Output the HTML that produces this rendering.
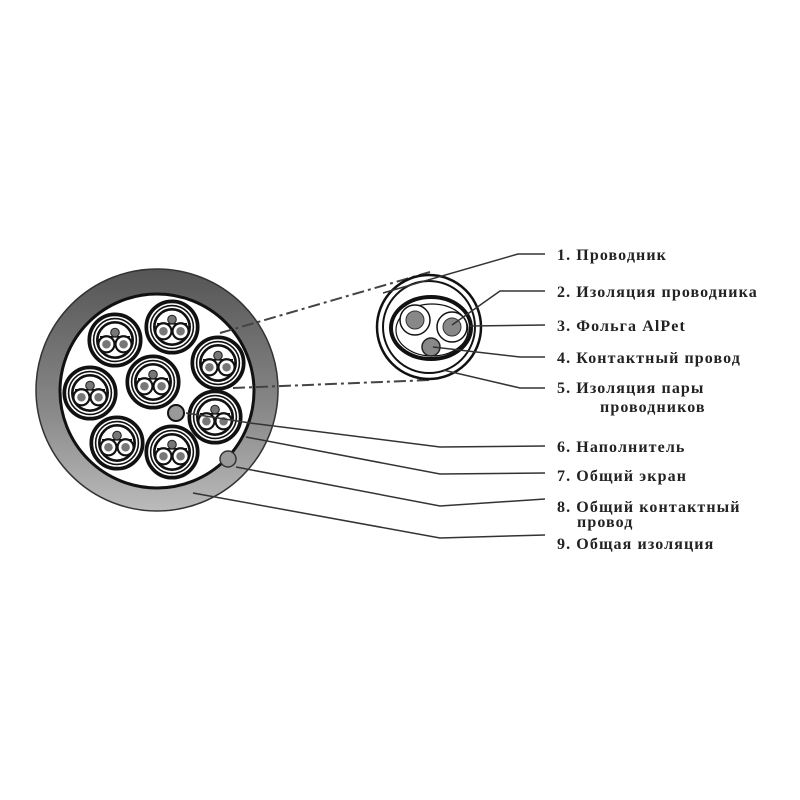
<!DOCTYPE html>
<html><head><meta charset="utf-8"><style>
html,body{margin:0;padding:0;background:#fff;}
svg{display:block}
text{font-family:"Liberation Serif",serif;font-weight:bold;font-size:16px;letter-spacing:1.1px;fill:#222}
</style></head><body>
<svg width="800" height="800" viewBox="0 0 800 800" xmlns="http://www.w3.org/2000/svg">
<defs>
<linearGradient id="g" x1="0" y1="0" x2="0" y2="1">
<stop offset="0" stop-color="#555"/><stop offset="0.6" stop-color="#8a8a8a"/><stop offset="1" stop-color="#bbb"/>
</linearGradient>
<g id="pair" transform="scale(1.07)">
<circle r="24" fill="#fff" stroke="#111" stroke-width="3.5"/>
<circle r="20" fill="none" stroke="#111" stroke-width="1.5"/>
<circle r="16.5" fill="none" stroke="#111" stroke-width="2.5"/>
<line x1="-14" y1="-3" x2="14" y2="-3" stroke="#111" stroke-width="1.5"/>
<circle cx="0" cy="-7" r="4" fill="#777" stroke="#222"/>
<circle cx="-8" cy="4" r="7.5" fill="#fff" stroke="#111" stroke-width="2"/>
<circle cx="8" cy="4" r="7.5" fill="#fff" stroke="#111" stroke-width="2"/>
<circle cx="-8" cy="4" r="4" fill="#777"/>
<circle cx="8" cy="4" r="4" fill="#777"/>
</g>
</defs>
<circle cx="157" cy="390" r="121" fill="url(#g)" stroke="#333" stroke-width="1.5"/>
<circle cx="157" cy="391" r="97" fill="#fff" stroke="#111" stroke-width="3"/>
<use href="#pair" x="115" y="340"/>
<use href="#pair" x="172" y="327"/>
<use href="#pair" x="218" y="363"/>
<use href="#pair" x="153" y="382"/>
<use href="#pair" x="90" y="393"/>
<use href="#pair" x="215" y="417"/>
<use href="#pair" x="117" y="443"/>
<use href="#pair" x="172" y="452"/>
<circle cx="176" cy="413" r="8" fill="#999" stroke="#111" stroke-width="2"/>
<circle cx="228" cy="459" r="8" fill="#999" stroke="#333" stroke-width="1.5"/>
<g stroke="#444" stroke-width="2" stroke-dasharray="12,4,3,4" fill="none">
<line x1="220" y1="333" x2="430" y2="272"/>
<line x1="233" y1="388" x2="430" y2="380"/>
</g>
<circle cx="429" cy="327" r="52" fill="#fff" stroke="#111" stroke-width="2.5"/>
<circle cx="429" cy="327" r="46" fill="none" stroke="#111" stroke-width="2"/>
<ellipse cx="431" cy="328" rx="40" ry="31" fill="none" stroke="#111" stroke-width="4"/>
<ellipse cx="432" cy="330" rx="36" ry="26" fill="none" stroke="#111" stroke-width="1.2"/>
<circle cx="415" cy="320" r="15" fill="#fff" stroke="#111" stroke-width="1.5"/>
<circle cx="415" cy="320" r="9" fill="#888" stroke="#333"/>
<circle cx="452" cy="327" r="15" fill="#fff" stroke="#111" stroke-width="1.5"/>
<circle cx="452" cy="327" r="9" fill="#888" stroke="#333"/>
<circle cx="431" cy="347" r="9" fill="#888" stroke="#222" stroke-width="1.5"/>
<g stroke="#333" stroke-width="1.5" fill="none">
<polyline points="383,293 518,254 545,254"/>
<polyline points="452,325 500,291 545,291"/>
<polyline points="470,326 545,325"/>
<polyline points="433,347 520,357 545,357"/>
<polyline points="443,370 520,388 545,388"/>
<polyline points="186,413 250,423 440,447 545,446"/>
<polyline points="246,437 440,474 545,473"/>
<polyline points="236,467 440,506 545,499"/>
<polyline points="193,493 440,538 545,535"/>
</g>
<text x="557" y="260">1. Проводник</text>
<text x="557" y="297">2. Изоляция проводника</text>
<text x="557" y="331">3. Фольга AlPet</text>
<text x="557" y="363">4. Контактный провод</text>
<text x="557" y="393">5. Изоляция пары</text>
<text x="600" y="412">проводников</text>
<text x="557" y="452">6. Наполнитель</text>
<text x="557" y="481">7. Общий экран</text>
<text x="557" y="512">8. Общий контактный</text>
<text x="577" y="527">провод</text>
<text x="557" y="549">9. Общая изоляция</text>
</svg>
</body></html>
